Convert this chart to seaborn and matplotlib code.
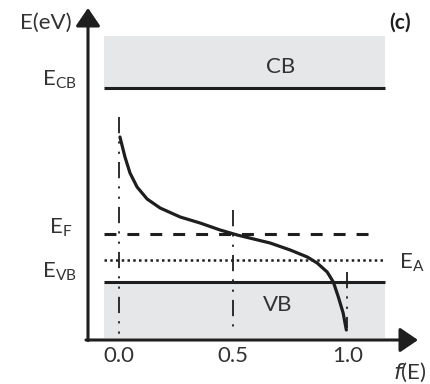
import matplotlib
matplotlib.use('Agg')
import matplotlib.pyplot as plt
import pandas as pd
import seaborn as sns

sns.set_style('white')
plt.rcParams['font.family'] = ['Lato', 'DejaVu Sans']

# Occupation curve f(E) (energy in arbitrary units)
f_vals = [0.004, 0.026, 0.048, 0.079, 0.123, 0.180, 0.268, 0.355, 0.443, 0.518,
          0.662, 0.750, 0.825, 0.868, 0.912, 0.939, 0.961, 0.982, 0.996]
e_vals = [2.03, 1.83, 1.67, 1.53, 1.41, 1.32, 1.23, 1.17, 1.10, 1.05,
          0.97, 0.90, 0.83, 0.77, 0.68, 0.58, 0.43, 0.27, 0.10]

# Energy levels
E_CB = 2.52
E_F = 1.06
E_A = 0.80
E_VB = 0.58
CB_top = 3.04
VB_bottom = 0.02

# Vertical markers at f = 0, 0.5, 1 (top, bottom)
marks_f = [0.0, 0.5, 1.0]
marks_top = [2.23, 1.30, 0.68]
marks_bot = [0.02, 0.10, 0.12]

ticks = [0.0, 0.5, 1.0]
tick_labels = ['0.0', '0.5', '1.0']

band_left, band_right = -0.066, 1.167
ink = '#1e1e1e'
txt = '#333333'
gray = '#e6e7e8'

fig = plt.figure(figsize=(4.31, 3.84), dpi=100)
ax = fig.add_axes([88 / 431, 1 - 340 / 384, 330 / 431, 332 / 384])
ax.set_xlim(-0.136, 1.31)
ax.set_ylim(0, 3.32)
for s in ax.spines.values():
    s.set_visible(False)

# bands
ax.fill_between([band_left, band_right], E_CB, CB_top, color=gray, lw=0, zorder=0)
ax.fill_between([band_left, band_right], VB_bottom, E_VB, color=gray, lw=0, zorder=0)

# levels
ax.plot([band_left, band_right], [E_CB, E_CB], color=ink, lw=2.2, solid_capstyle='butt')
ax.plot([band_left, band_right], [E_VB, E_VB], color=ink, lw=2.2, solid_capstyle='butt')
ax.plot([band_left, 1.13], [E_F, E_F], color=ink, lw=2.2, dashes=(3.9, 3.6), dash_capstyle='butt')
ax.plot([band_left, band_right], [E_A, E_A], color=ink, lw=1.8, dashes=(1.0, 1.3))

# dash-dot-dot verticals
for xf, t, b in zip(marks_f, marks_top, marks_bot):
    ax.plot([xf, xf], [t, b], color=ink, lw=1.3, dashes=(9, 4.5, 1.2, 4.5, 1.2, 4.5))

# occupation curve
df = pd.DataFrame({'f': f_vals, 'E': e_vals})
sns.lineplot(data=df, x='f', y='E', ax=ax, color=ink, lw=2.3, sort=False)

# axes with arrows
arrow = dict(arrowstyle='-|>,head_length=1.1,head_width=0.75', lw=2.2, color=ink,
             shrinkA=0, shrinkB=0, mutation_scale=10)
ax.annotate('', xy=(-0.136, 3.32), xytext=(-0.136, -0.005), arrowprops=arrow,
            annotation_clip=False)
ax.annotate('', xy=(1.31, 0), xytext=(-0.145, 0), arrowprops=arrow,
            annotation_clip=False)

fs = 16
ax.set_xticks(ticks, tick_labels)
ax.set_yticks([])
ax.tick_params(axis='x', length=0, pad=4, labelsize=fs, labelcolor=txt)
ax.set_xlabel('')
ax.set_ylabel('')

ax.text(-0.208, 3.17, 'E(eV)', fontsize=fs, color=txt, ha='right', va='center', clip_on=False)
ax.text(-0.184, 2.60, r'$\mathregular{E_{CB}}$', fontsize=fs, color=txt, ha='right', va='center', clip_on=False)
ax.text(-0.206, 1.12, r'$\mathregular{E_{F}}$', fontsize=fs, color=txt, ha='right', va='center', clip_on=False)
ax.text(-0.184, 0.68, r'$\mathregular{E_{VB}}$', fontsize=fs, color=txt, ha='right', va='center', clip_on=False)
ax.text(1.226, 0.77, r'$\mathregular{E_{A}}$', fontsize=fs, color=txt, ha='left', va='center', clip_on=False)
ax.text(0.706, 2.73, 'CB', fontsize=fs, color=txt, ha='center', va='center')
ax.text(0.693, 0.35, 'VB', fontsize=fs, color=txt, ha='center', va='center')
ax.text(1.232, 3.17, '(c)', fontsize=15, color=ink, fontweight='bold', ha='center', va='center', clip_on=False)
ax.text(1.272, -0.32, r'$\mathit{f}$(E)', fontsize=fs, color=txt, ha='center', va='center', clip_on=False)

fig.savefig('out.png', dpi=100)
